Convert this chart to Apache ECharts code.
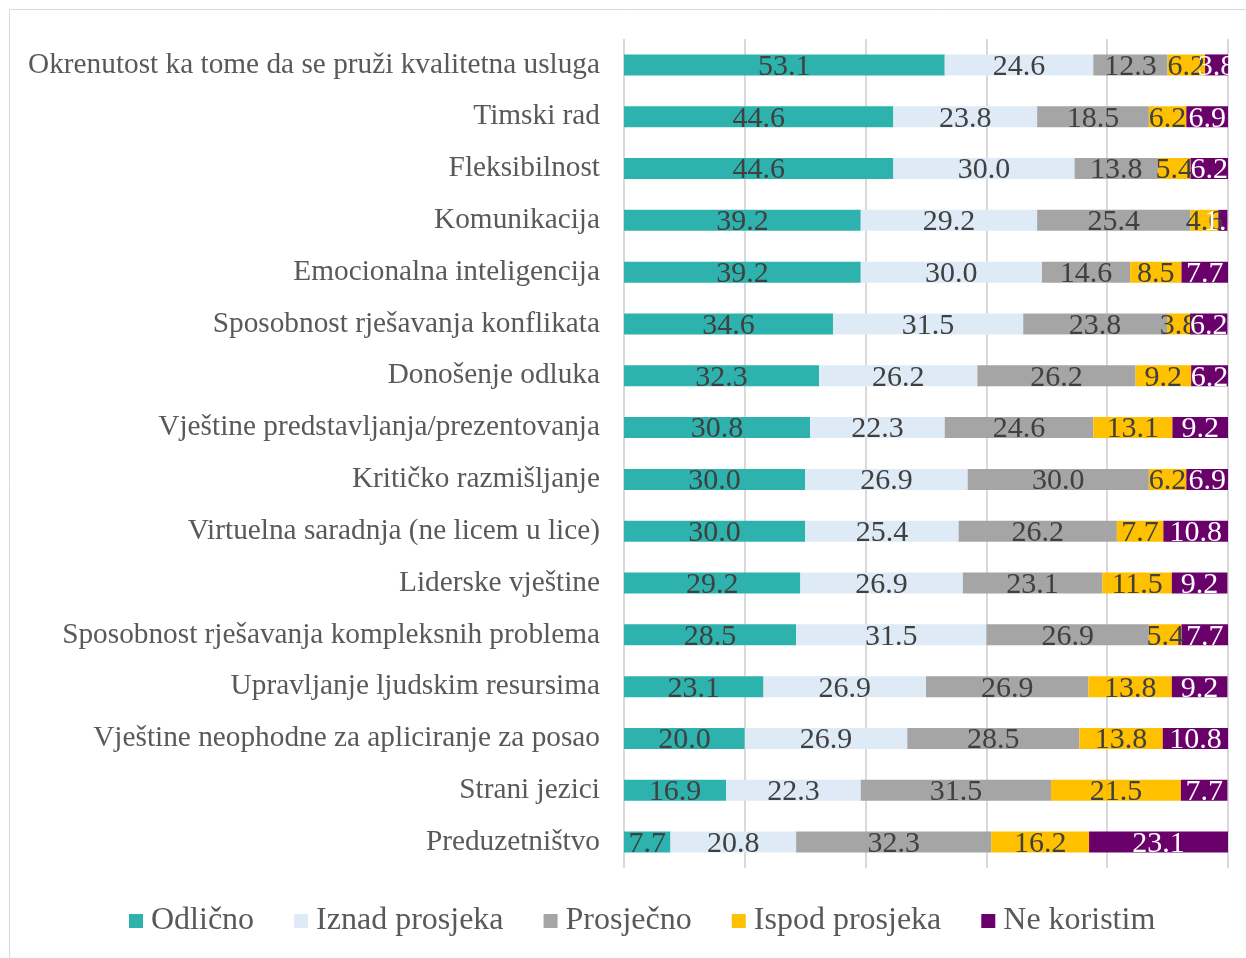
<!DOCTYPE html>
<html>
<head>
<meta charset="utf-8">
<script src="https://cdn.jsdelivr.net/npm/echarts@6/dist/echarts.min.js"></script>
<style>
  html, body { margin: 0; padding: 0; background: #fff; }
  #chart { width: 1246px; height: 958px; }
</style>
</head>
<body>
<div id="chart"></div>
<script>
var categories = [
    'Okrenutost ka tome da se pruži kvalitetna usluga',
    'Timski rad',
    'Fleksibilnost',
    'Komunikacija',
    'Emocionalna inteligencija',
    'Sposobnost rješavanja konflikata',
    'Donošenje odluka',
    'Vještine predstavljanja/prezentovanja',
    'Kritičko razmišljanje',
    'Virtuelna saradnja (ne licem u lice)',
    'Liderske vještine',
    'Sposobnost rješavanja kompleksnih problema',
    'Upravljanje ljudskim resursima',
    'Vještine neophodne za apliciranje za posao',
    'Strani jezici',
    'Preduzetništvo'
];
var odlicno      = [53.1, 44.6, 44.6, 39.2, 39.2, 34.6, 32.3, 30.8, 30.0, 30.0, 29.2, 28.5, 23.1, 20.0, 16.9, 7.7];
var iznad        = [24.6, 23.8, 30.0, 29.2, 30.0, 31.5, 26.2, 22.3, 26.9, 25.4, 26.9, 31.5, 26.9, 26.9, 22.3, 20.8];
var prosjecno    = [12.3, 18.5, 13.8, 25.4, 14.6, 23.8, 26.2, 24.6, 30.0, 26.2, 23.1, 26.9, 26.9, 28.5, 31.5, 32.3];
var ispod        = [6.2, 6.2, 5.4, 4.6, 8.5, 3.8, 9.2, 13.1, 6.2, 7.7, 11.5, 5.4, 13.8, 13.8, 21.5, 16.2];
var neKoristim   = [3.8, 6.9, 6.2, 1.5, 7.7, 6.2, 6.2, 9.2, 6.9, 10.8, 9.2, 7.7, 9.2, 10.8, 7.7, 23.1];
var seriesNames  = ['Odlično', 'Iznad prosjeka', 'Prosječno', 'Ispod prosjeka', 'Ne koristim'];
var seriesColors = ['#2db2ae', '#deebf7', '#a5a5a5', '#ffc000', '#6a006a'];

var font = '"Liberation Serif", "DejaVu Serif", serif';
var myChart = echarts.init(document.getElementById('chart'));

function makeSeries(name, data, color, labelColor) {
    return {
        name: name,
        type: 'bar',
        stack: 'total',
        barWidth: 21,
        data: data,
        itemStyle: { color: color },
        label: {
            show: true,
            position: 'inside',
            offset: [0, 2],
            color: labelColor,
            fontFamily: font,
            fontSize: 30,
            formatter: function (p) { return p.value.toFixed(1); }
        }
    };
}

var option = {
    backgroundColor: '#fff',
    animation: false,
    textStyle: { fontFamily: font },
    graphic: [{
        type: 'rect',
        shape: { x: 9.5, y: 9.5, width: 1246, height: 958 },
        style: { fill: 'none', stroke: '#d9d9d9', lineWidth: 1 }
    }],
    grid: { left: 624, right: 18, top: 39, bottom: 90, containLabel: false },
    legend: {
        bottom: 16,
        left: 124,
        itemWidth: 14,
        itemHeight: 14,
        itemGap: 40,
        icon: 'rect',
        textStyle: { fontFamily: font, fontSize: 32, color: '#595959', padding: [0, 0, 0, 3] },
        data: seriesNames
    },
    xAxis: {
        type: 'value',
        min: 0,
        max: 100,
        interval: 20,
        axisLabel: { show: false },
        axisLine: { show: false },
        axisTick: { show: false },
        splitLine: { lineStyle: { color: '#d9d9d9', width: 2 } }
    },
    yAxis: {
        type: 'category',
        inverse: true,
        data: categories,
        axisLine: { show: false },
        axisTick: { show: false },
        axisLabel: { margin: 24, fontFamily: font, fontSize: 29.3, color: '#595959', padding: [6, 0, 0, 0] }
    },
    series: [
        makeSeries(seriesNames[0], odlicno, seriesColors[0], '#404040'),
        makeSeries(seriesNames[1], iznad, seriesColors[1], '#404040'),
        makeSeries(seriesNames[2], prosjecno, seriesColors[2], '#404040'),
        makeSeries(seriesNames[3], ispod, seriesColors[3], '#404040'),
        makeSeries(seriesNames[4], neKoristim, seriesColors[4], '#ffffff')
    ]
};
myChart.setOption(option);
</script>
</body>
</html>
